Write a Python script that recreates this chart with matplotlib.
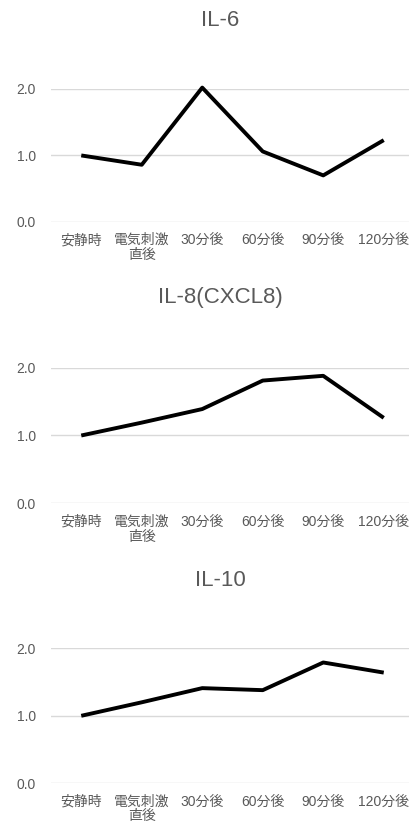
import matplotlib.pyplot as plt

categories = ['安静時', '電気刺激\n直後', '30分後', '60分後', '90分後', '120分後']
titles = ['IL-6', 'IL-8(CXCL8)', 'IL-10']
il6 = [1.0, 0.86, 2.02, 1.06, 0.70, 1.23]
il8 = [1.0, 1.19, 1.39, 1.81, 1.88, 1.26]
il10 = [1.0, 1.20, 1.41, 1.38, 1.79, 1.64]
yticks = [0.0, 1.0, 2.0]

series = [il6, il8, il10]
# axes boxes [left, bottom, width, height] in figure fractions
boxes = [[0.1247, 0.730, 0.8875, 0.1618],
         [0.1247, 0.3877, 0.8875, 0.165],
         [0.1247, 0.0471, 0.8875, 0.1642]]
title_y = [20, 298, 581]

fam = ['Liberation Sans', 'Noto Sans CJK JP']
gray = '#595959'

fig = plt.figure(figsize=(4.09, 8.22), dpi=100)

for vals, box, t, ty in zip(series, boxes, titles, title_y):
    ax = fig.add_axes(box)
    x = range(len(categories))
    ax.plot(x, vals, color='black', lw=2.8, solid_capstyle='butt', clip_on=False, zorder=3)
    ax.set_xlim(-0.5, len(categories) - 0.5)
    ax.set_ylim(0, 2.0)
    ax.set_yticks(yticks)
    ax.set_yticklabels([f'{v:.1f}' for v in yticks], family=fam, fontsize=10, color=gray)
    ax.set_xticks(list(x))
    ax.set_xticklabels(categories, family=fam, fontsize=10, color=gray, linespacing=1.1)
    ax.tick_params(axis='y', length=0, pad=11)
    ax.tick_params(axis='x', length=0, pad=8)
    ax.grid(axis='y', color='#d9d9d9', lw=1)
    ax.set_axisbelow(True)
    for s in ax.spines.values():
        s.set_visible(False)
    fig.text(220 / 409, 1 - ty / 822, t, ha='center', va='center',
             family=fam, fontsize=16, color=gray)

plt.savefig('out.png', dpi=100)
